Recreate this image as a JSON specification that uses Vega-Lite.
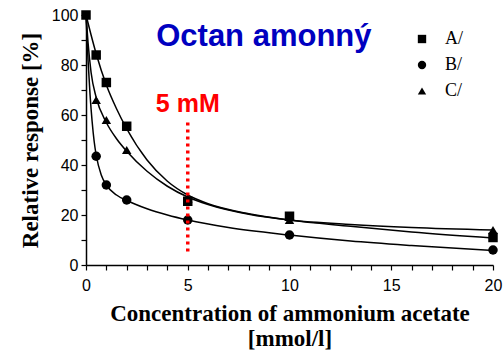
{
  "$schema": "https://vega.github.io/schema/vega-lite/v6.json",
  "autosize": "none",
  "width": 407,
  "height": 250,
  "padding": {"left": 86, "top": 15, "right": 11, "bottom": 87},
  "background": "white",
  "config": {"view": {"stroke": null}},
  "datasets": {
    "points": [
      {"c": 20, "r": 11, "s": "A/"},
      {"c": 10, "r": 19.5, "s": "A/"},
      {"c": 5, "r": 25.5, "s": "A/"},
      {"c": 2, "r": 55.5, "s": "A/"},
      {"c": 1, "r": 73, "s": "A/"},
      {"c": 0.5, "r": 84, "s": "A/"},
      {"c": 0, "r": 100, "s": "A/"},
      {"c": 20, "r": 6, "s": "B/"},
      {"c": 10, "r": 12, "s": "B/"},
      {"c": 5, "r": 18, "s": "B/"},
      {"c": 2, "r": 26, "s": "B/"},
      {"c": 1, "r": 32, "s": "B/"},
      {"c": 0.5, "r": 43.5, "s": "B/"},
      {"c": 20, "r": 14, "s": "C/"},
      {"c": 10, "r": 18, "s": "C/"},
      {"c": 5, "r": 26.5, "s": "C/"},
      {"c": 2, "r": 46, "s": "C/"},
      {"c": 1, "r": 58, "s": "C/"},
      {"c": 0.5, "r": 66, "s": "C/"}
    ],
    "curves": [
      {"c": 0, "r": 100, "s": "A"},
      {"c": 0.25, "r": 92, "s": "A"},
      {"c": 0.5, "r": 84.5, "s": "A"},
      {"c": 1, "r": 72, "s": "A"},
      {"c": 1.5, "r": 62.5, "s": "A"},
      {"c": 2, "r": 54.5, "s": "A"},
      {"c": 3, "r": 42, "s": "A"},
      {"c": 4, "r": 33.5, "s": "A"},
      {"c": 5, "r": 28, "s": "A"},
      {"c": 6, "r": 24.5, "s": "A"},
      {"c": 8, "r": 20.5, "s": "A"},
      {"c": 10, "r": 18, "s": "A"},
      {"c": 13, "r": 15.5, "s": "A"},
      {"c": 16, "r": 13.2, "s": "A"},
      {"c": 20, "r": 10.8, "s": "A"},
      {"c": 0, "r": 100, "s": "B"},
      {"c": 0.1, "r": 82, "s": "B"},
      {"c": 0.2, "r": 68, "s": "B"},
      {"c": 0.3, "r": 57.5, "s": "B"},
      {"c": 0.4, "r": 49.5, "s": "B"},
      {"c": 0.5, "r": 44, "s": "B"},
      {"c": 0.75, "r": 36, "s": "B"},
      {"c": 1, "r": 32, "s": "B"},
      {"c": 1.5, "r": 28, "s": "B"},
      {"c": 2, "r": 25.8, "s": "B"},
      {"c": 3, "r": 22.5, "s": "B"},
      {"c": 4, "r": 20, "s": "B"},
      {"c": 5, "r": 18, "s": "B"},
      {"c": 7, "r": 15, "s": "B"},
      {"c": 10, "r": 12, "s": "B"},
      {"c": 13, "r": 9.6, "s": "B"},
      {"c": 16, "r": 7.8, "s": "B"},
      {"c": 20, "r": 5.8, "s": "B"},
      {"c": 0, "r": 100, "s": "C"},
      {"c": 0.1, "r": 89, "s": "C"},
      {"c": 0.25, "r": 77, "s": "C"},
      {"c": 0.5, "r": 67, "s": "C"},
      {"c": 1, "r": 57, "s": "C"},
      {"c": 1.5, "r": 50.5, "s": "C"},
      {"c": 2, "r": 45.5, "s": "C"},
      {"c": 3, "r": 37.5, "s": "C"},
      {"c": 4, "r": 31.5, "s": "C"},
      {"c": 5, "r": 27.2, "s": "C"},
      {"c": 6, "r": 24.2, "s": "C"},
      {"c": 8, "r": 20.3, "s": "C"},
      {"c": 10, "r": 18, "s": "C"},
      {"c": 13, "r": 16.2, "s": "C"},
      {"c": 16, "r": 15, "s": "C"},
      {"c": 20, "r": 14, "s": "C"}
    ],
    "marker": [
      {"c": 5, "r": 57, "bottom": 4}
    ],
    "markerLabel": [
      {"c": 5, "r": 61.3, "label": "5 mM"}
    ],
    "heading": [
      {"c": 3.45, "r": 87.6, "label": "Octan amonný"}
    ]
  },
  "encoding": {
    "x": {
      "field": "c", "type": "quantitative",
      "scale": {"domain": [0, 20], "nice": false, "zero": false},
      "axis": {
        "title": ["Concentration of ammonium acetate", "[mmol/l]"],
        "titleFont": "Liberation Serif", "titleFontSize": 23, "titleFontWeight": "bold",
        "titleColor": "black", "titlePadding": 9, "titleLineHeight": 25,
        "values": [0,1,2,3,4,5,6,7,8,9,10,11,12,13,14,15,16,17,18,19,20],
        "labelExpr": "datum.value % 5 === 0 ? datum.label : ''",
        "labelOverlap": false,
        "labelFont": "Liberation Sans", "labelFontSize": 16, "labelColor": "black",
        "labelPadding": 7, "labelFlush": false,
        "domainColor": "black", "domainWidth": 1.5,
        "tickColor": "black", "tickSize": 5, "tickWidth": 1.2,
        "grid": false
      }
    },
    "y": {
      "field": "r", "type": "quantitative",
      "scale": {"domain": [0, 100], "nice": false},
      "axis": {
        "title": "Relative response [%]",
        "titleFont": "Liberation Serif", "titleFontSize": 23, "titleFontWeight": "bold",
        "titleColor": "black", "titlePadding": 9,
        "values": [0,10,20,30,40,50,60,70,80,90,100],
        "labelExpr": "datum.value % 20 === 0 ? datum.label : ''",
        "labelOverlap": false,
        "labelFont": "Liberation Sans", "labelFontSize": 16, "labelColor": "black",
        "labelPadding": 3,
        "domainColor": "black", "domainWidth": 1.5,
        "tickColor": "black", "tickSize": 5, "tickWidth": 1.2,
        "grid": false
      }
    }
  },
  "layer": [
    {
      "data": {"name": "curves"},
      "mark": {"type": "line", "interpolate": "monotone", "color": "black", "strokeWidth": 1.5},
      "encoding": {
        "detail": {"field": "s"}
      }
    },
    {
      "data": {"name": "points"},
      "mark": {"type": "point", "filled": true, "opacity": 1, "color": "black"},
      "encoding": {
        "shape": {
          "field": "s", "type": "nominal",
          "scale": {"domain": ["A/", "B/", "C/"], "range": ["square", "circle", "triangle-up"]},
          "legend": {
            "title": null, "orient": "none", "legendX": 327, "legendY": 15,
            "labelFont": "Liberation Serif", "labelFontSize": 18, "labelColor": "black",
            "symbolSize": 70, "symbolFillColor": "black", "symbolStrokeColor": "black",
            "labelOffset": 14, "rowPadding": 8, "symbolOffset": 0
          }
        },
        "size": {"value": 90}
      }
    },
    {
      "data": {"name": "marker"},
      "mark": {"type": "rule", "color": "#ff0000", "strokeWidth": 3.5, "strokeDash": [3, 4]},
      "encoding": {
        "y2": {"field": "bottom"}
      }
    },
    {
      "data": {"name": "markerLabel"},
      "mark": {"type": "text", "color": "#ff0000", "font": "Liberation Sans", "fontSize": 25, "fontWeight": "bold", "align": "center", "baseline": "alphabetic"},
      "encoding": {
        "text": {"field": "label"}
      }
    },
    {
      "data": {"name": "heading"},
      "mark": {"type": "text", "color": "#0000c0", "font": "Liberation Sans", "fontSize": 31, "fontWeight": "bold", "align": "left", "baseline": "alphabetic"},
      "encoding": {
        "text": {"field": "label"}
      }
    }
  ]
}
